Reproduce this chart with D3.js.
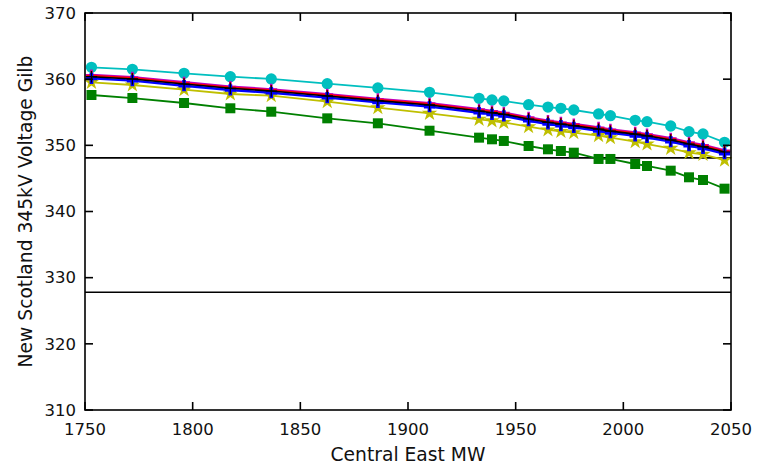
<!DOCTYPE html>
<html><head><meta charset="utf-8">
<script src="https://cdn.jsdelivr.net/npm/d3@7"></script>
<style>body{margin:0;background:#fff}svg{display:block}text{font-family:"DejaVu Sans",sans-serif;fill:#111}</style>
</head><body><svg id="c" width="771" height="468"></svg>
<script>
const mw = [1753,1772,1796,1817.5,1836.5,1862.5,1886,1910,1933,1939,1944.5,1956,1965,1971,1977,1988.5,1994,2005.5,2011,2022,2030.5,2037,2047];
const cyan = [361.79,361.49,360.89,360.37,360.03,359.32,358.67,358.01,357.11,356.85,356.70,356.14,355.79,355.60,355.34,354.74,354.48,353.78,353.57,352.92,352.06,351.71,350.46];
const black = [360.37,360.03,359.27,358.62,358.21,357.46,356.75,356.10,355.19,354.93,354.69,353.98,353.48,353.22,352.97,352.45,352.15,351.69,351.44,350.81,350.20,349.80,348.99];
const red = [360.50,360.16,359.40,358.75,358.34,357.59,356.88,356.23,355.32,355.06,354.82,354.11,353.61,353.35,353.10,352.58,352.28,351.82,351.57,350.94,350.33,349.93,349.12];
const magenta = [360.58,360.24,359.48,358.83,358.42,357.67,356.96,356.31,355.40,355.14,354.90,354.19,353.69,353.43,353.18,352.66,352.36,351.90,351.65,351.02,350.41,350.01,349.20];
const blue = [360.12,359.78,359.02,358.37,357.96,357.21,356.50,355.85,354.94,354.68,354.44,353.73,353.23,352.97,352.72,352.20,351.90,351.44,351.19,350.56,349.95,349.55,348.74];
const yellow = [359.52,359.12,358.41,357.76,357.50,356.60,355.69,354.84,353.93,353.70,353.45,352.82,352.32,352.10,351.91,351.48,351.16,350.55,350.20,349.55,348.89,348.65,347.78];
const green = [357.61,357.15,356.40,355.60,355.08,354.08,353.33,352.21,351.16,350.91,350.66,349.90,349.40,349.14,348.89,347.94,347.94,347.18,346.88,346.17,345.17,344.76,343.45];
const limits = [348.1, 327.8];
const xTicks = [1750,1800,1850,1900,1950,2000,2050];
const yTicks = [310,320,330,340,350,360,370];

const svg = d3.select("#c");
const L=85,R=731,T=13,B=410;
const x = d3.scaleLinear().domain([1750,2050]).range([L,R]);
const y = d3.scaleLinear().domain([310,370]).range([B,T]);

limits.forEach(v=>svg.append("line").attr("x1",L).attr("x2",R).attr("y1",y(v)).attr("y2",y(v)).attr("stroke","#000").attr("stroke-width",1.6));

const line = d3.line().x((d,i)=>x(mw[i])).y(d=>y(d));
function series(vals,color,w){
  svg.append("path").datum(vals).attr("d",line).attr("fill","none").attr("stroke",color).attr("stroke-width",w);
}
function markers(vals,sym,size,fill,stroke,sw){
  svg.append("g").selectAll("path").data(vals).join("path")
    .attr("transform",(d,i)=>`translate(${x(mw[i])},${y(d)})`)
    .attr("d",d3.symbol().type(sym).size(size))
    .attr("fill",fill).attr("stroke",stroke).attr("stroke-width",sw);
}
const plus = {draw(ctx,size){const r=Math.sqrt(size)/2;ctx.moveTo(-r,0);ctx.lineTo(r,0);ctx.moveTo(0,-r);ctx.lineTo(0,r);}};

series(green,"#008000",1.8); markers(green,d3.symbolSquare,100,"#008000","none",0);
series(yellow,"#bfbf00",1.8); markers(yellow,d3.symbolStar,75,"#bfbf00","none",0);
series(cyan,"#00bfbf",1.8); markers(cyan,d3.symbolCircle,100,"#00bfbf","none",0);
series(magenta,"#bf00bf",3); markers(magenta,plus,140,"none","#bf00bf",2.5);
series(red,"#ff0000",2); markers(red,plus,100,"none","#ff0000",2);
series(blue,"#0000ff",2.5); markers(blue,d3.symbolCross,70,"#0000ff","none",0);
series(black,"#000",1.6); markers(black,plus,130,"none","#000",1.2);

svg.append("rect").attr("x",L).attr("y",T).attr("width",R-L).attr("height",B-T).attr("fill","none").attr("stroke","#000").attr("stroke-width",1.6);
const tl=8;
xTicks.forEach(t=>{
  svg.append("line").attr("x1",x(t)).attr("x2",x(t)).attr("y1",B).attr("y2",B-tl).attr("stroke","#000").attr("stroke-width",1.6);
  svg.append("line").attr("x1",x(t)).attr("x2",x(t)).attr("y1",T).attr("y2",T+tl).attr("stroke","#000").attr("stroke-width",1.6);
  svg.append("text").attr("x",x(t)).attr("y",B+25).attr("text-anchor","middle").attr("font-size",16.5).text(t);
});
yTicks.forEach(t=>{
  svg.append("line").attr("x1",L).attr("x2",L+tl).attr("y1",y(t)).attr("y2",y(t)).attr("stroke","#000").attr("stroke-width",1.6);
  svg.append("line").attr("x1",R).attr("x2",R-tl).attr("y1",y(t)).attr("y2",y(t)).attr("stroke","#000").attr("stroke-width",1.6);
  svg.append("text").attr("x",L-9).attr("y",y(t)).attr("dy","0.35em").attr("text-anchor","end").attr("font-size",16.5).text(t);
});
svg.append("text").attr("x",(L+R)/2).attr("y",461).attr("text-anchor","middle").attr("font-size",18.7).text("Central East MW");
svg.append("text").attr("transform",`translate(32,${(T+B)/2}) rotate(-90)`).attr("text-anchor","middle").attr("font-size",18.7).text("New Scotland 345kV Voltage Gilb");
</script></body></html>
